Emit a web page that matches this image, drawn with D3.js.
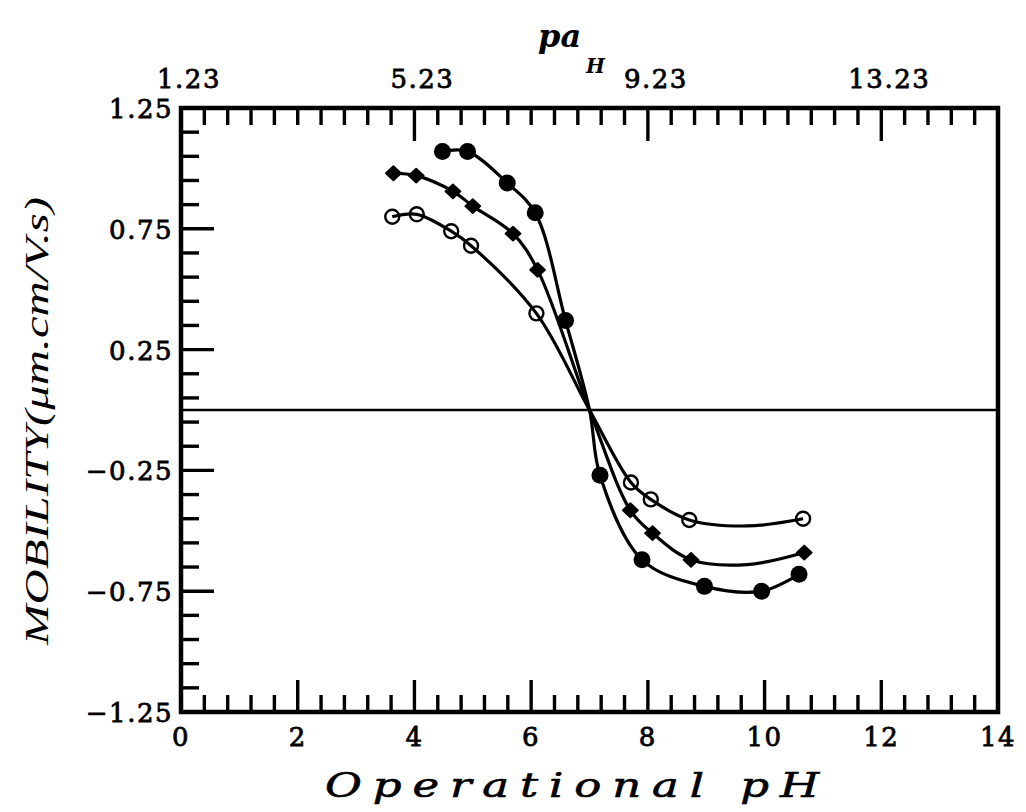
<!DOCTYPE html>
<html>
<head>
<meta charset="utf-8">
<script src="https://cdn.jsdelivr.net/npm/d3@7"></script>
<style>
  html, body { margin: 0; padding: 0; background: #fff; }
  svg { display: block; }
</style>
</head>
<body>
<svg id="chart" width="1026" height="812"></svg>
<script>
// ---------------- DATA ----------------
// Filled circles
const filledPH  = [4.48, 4.91, 5.59, 6.07, 6.59, 7.18, 7.90, 8.97, 9.95, 10.59];
const filledMob = [1.07, 1.07, 0.94, 0.816, 0.37, -0.27, -0.62, -0.73, -0.75, -0.68];
// Filled diamonds
const diamondPH  = [3.64, 4.03, 4.66, 5.00, 5.69, 6.11, 7.70, 8.08, 8.74, 10.68];
const diamondMob = [0.98, 0.97, 0.905, 0.844, 0.73, 0.58, -0.415, -0.51, -0.62, -0.59];
// Open circles
const openPH  = [3.62, 4.04, 4.63, 4.97, 6.09, 7.71, 8.05, 8.71, 10.66];
const openMob = [0.80, 0.81, 0.74, 0.68, 0.40, -0.30, -0.37, -0.455, -0.45];

// Fitted curve extra points (common crossing and tail minima)
const crossPH = 7.0, crossMob = 0.0;
const filledTailPH = [], filledTailMob = [];
const diamondTailPH = [9.7], diamondTailMob = [-0.64];
const openTailPH = [9.7], openTailMob = [-0.48];

// Axis ticks / labels
const bottomLabels = [0, 2, 4, 6, 8, 10, 12, 14];
const topMajor = [4, 8, 12];
const topLabelPH = [0, 4, 8, 12];
const topLabels = ["1.23", "5.23", "9.23", "13.23"];
const leftLabelVals = [1.25, 0.75, 0.25, -0.25, -0.75, -1.25];
const leftLabels = ["1.25", "0.75", "0.25", "\u22120.25", "\u22120.75", "\u22121.25"];
const leftMajor = [0.75, 0.25, -0.25, -0.75];

// ---------------- DRAW ----------------
const svg = d3.select("#chart");
const x = d3.scaleLinear().domain([0, 14]).range([181, 998]);
const y = d3.scaleLinear().domain([-1.25, 1.25]).range([712, 108]);

const ink = "#000";
const tickFont = "'DejaVu Serif', serif";

// minor tick positions
const xMinor = d3.range(0, 70 + 1, 2).map(v => v / 5);      // every 0.4
const yMinor = d3.range(-125, 126, 10).map(v => v / 100);    // every 0.1

const g = svg.append("g");

// Zero line
g.append("line")
  .attr("x1", x(0)).attr("x2", x(14))
  .attr("y1", y(0)).attr("y2", y(0))
  .attr("stroke", ink).attr("stroke-width", 2.6);

// Frame
g.append("rect")
  .attr("x", x(0)).attr("y", y(1.25))
  .attr("width", x(14) - x(0)).attr("height", y(-1.25) - y(1.25))
  .attr("fill", "none").attr("stroke", ink).attr("stroke-width", 4.5);

// Bottom ticks (inward)
const isMajor2 = v => Math.abs(v / 2 - Math.round(v / 2)) < 1e-6;
g.selectAll(".bt").data(xMinor.filter(v => v > 0 && v < 14)).enter().append("line")
  .attr("x1", d => x(d)).attr("x2", d => x(d))
  .attr("y1", y(-1.25)).attr("y2", d => y(-1.25) - (isMajor2(d) ? 32 : 17))
  .attr("stroke", ink).attr("stroke-width", 3.4);

// Top ticks (inward)
const isTopMajor = v => topMajor.some(t => Math.abs(t - v) < 1e-6);
g.selectAll(".tt").data(xMinor.filter(v => v > 0 && v < 14)).enter().append("line")
  .attr("x1", d => x(d)).attr("x2", d => x(d))
  .attr("y1", y(1.25)).attr("y2", d => y(1.25) + (isTopMajor(d) ? 33 : 17))
  .attr("stroke", ink).attr("stroke-width", 3.4);

// Left ticks (inward)
const isLeftMajor = v => leftMajor.some(t => Math.abs(t - v) < 1e-6);
g.selectAll(".lt").data(yMinor.filter(v => v > -1.25 && v < 1.25)).enter().append("line")
  .attr("y1", d => y(d)).attr("y2", d => y(d))
  .attr("x1", x(0)).attr("x2", d => x(0) + (isLeftMajor(d) ? 33 : 18))
  .attr("stroke", ink).attr("stroke-width", 3.4);

function tickText(sel) {
  sel.attr("font-family", tickFont).attr("font-size", 26)
    .attr("letter-spacing", 1.5)
    .attr("fill", ink).attr("stroke", ink).attr("stroke-width", 0.8);
}

// Bottom labels
g.selectAll(".bl").data(bottomLabels).enter().append("text")
  .attr("x", d => x(d)).attr("y", 746)
  .attr("text-anchor", "middle")
  .call(tickText)
  .text(d => d);

// Top labels
g.selectAll(".tl").data(topLabelPH).enter().append("text")
  .attr("x", d => x(d) + 8).attr("y", 88)
  .attr("text-anchor", "middle")
  .call(tickText)
  .text((d, i) => topLabels[i]);

// Left labels
g.selectAll(".ll").data(leftLabelVals).enter().append("text")
  .attr("x", x(0) - 8).attr("y", d => y(d) + 10)
  .attr("text-anchor", "end")
  .call(tickText)
  .text((d, i) => leftLabels[i]);

// Axis titles
svg.append("text")
  .attr("x", 325).attr("y", 797)
  .attr("font-family", "'DejaVu Serif', serif").attr("font-style", "italic")
  .attr("font-size", 33)
  .attr("letter-spacing", 8)
  .attr("textLength", 505).attr("lengthAdjust", "spacingAndGlyphs")
  .attr("fill", ink).attr("stroke", ink).attr("stroke-width", 0.6)
  .text("Operational pH");

svg.append("text")
  .attr("transform", "translate(48,645) rotate(-90)")
  .attr("x", 0).attr("y", 0)
  .attr("font-family", "'Liberation Serif', serif").attr("font-style", "italic")
  .attr("font-size", 34)
  .attr("textLength", 448).attr("lengthAdjust", "spacingAndGlyphs")
  .attr("fill", ink)
  .text("MOBILITY(\u03BCm.cm/V.s)");

const topTitle = svg.append("text")
  .attr("x", 538).attr("y", 47)
  .attr("font-family", "'DejaVu Serif', serif").attr("font-style", "italic")
  .attr("font-weight", "bold")
  .attr("font-size", 32)
  .attr("fill", ink);
topTitle.append("tspan").text("pa");
topTitle.append("tspan").attr("font-size", 20).attr("dy", 26).attr("dx", 5).text("H");

// Curves
function zipPts(px, py) { return px.map((p, i) => [p, py[i]]); }
function curvePts(px, py, tx, ty) {
  return zipPts(px, py).concat([[crossPH, crossMob]]).concat(zipPts(tx, ty))
    .sort((a, b) => a[0] - b[0]);
}
const line = d3.line()
  .x(d => x(d[0])).y(d => y(d[1]))
  .curve(d3.curveCatmullRom.alpha(0.5));

const curves = [
  curvePts(filledPH, filledMob, filledTailPH, filledTailMob),
  curvePts(diamondPH, diamondMob, diamondTailPH, diamondTailMob),
  curvePts(openPH, openMob, openTailPH, openTailMob)
];
svg.selectAll(".curve").data(curves).enter().append("path")
  .attr("d", line)
  .attr("fill", "none").attr("stroke", ink).attr("stroke-width", 3.2);

// Markers
svg.selectAll(".fc").data(zipPts(filledPH, filledMob)).enter().append("circle")
  .attr("cx", d => x(d[0])).attr("cy", d => y(d[1])).attr("r", 8.5)
  .attr("fill", ink);

svg.selectAll(".dm").data(zipPts(diamondPH, diamondMob)).enter().append("path")
  .attr("transform", d => `translate(${x(d[0])},${y(d[1])})`)
  .attr("d", "M0,-7L7.5,0L0,7L-7.5,0Z")
  .attr("fill", ink).attr("stroke", ink).attr("stroke-width", 1.8).attr("stroke-linejoin", "round");

svg.selectAll(".oc").data(zipPts(openPH, openMob)).enter().append("circle")
  .attr("cx", d => x(d[0])).attr("cy", d => y(d[1])).attr("r", 7)
  .attr("fill", "none").attr("stroke", ink).attr("stroke-width", 2.4);
</script>
</body>
</html>
